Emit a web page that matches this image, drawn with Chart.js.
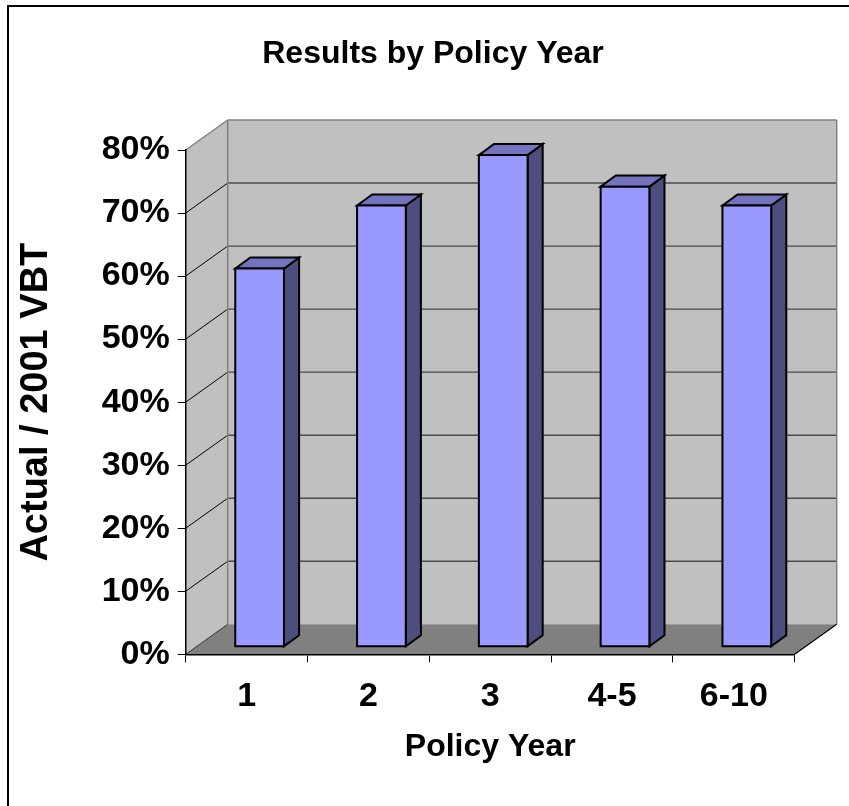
<!DOCTYPE html>
<html>
<head>
<meta charset="utf-8">
<script src="https://cdn.jsdelivr.net/npm/chart.js@4.4.1/dist/chart.umd.min.js"></script>
<style>
  html, body { margin: 0; padding: 0; background: #fff; overflow: hidden; width: 849px; height: 806px; }
  canvas { display: block; }
</style>
</head>
<body>
<canvas id="chart" width="866" height="806"></canvas>
<script>
// Policy year buckets and the actual-to-table ratio for each
const categories = ['1', '2', '3', '4-5', '6-10'];
const actualToVbt = [0.60, 0.70, 0.78, 0.73, 0.70];
const yTickValues = [0, 0.1, 0.2, 0.3, 0.4, 0.5, 0.6, 0.7, 0.8];
const chartTitle = 'Results by Policy Year';
const xTitle = 'Policy Year';
const yTitle = 'Actual / 2001 VBT';

// Oblique projection of the 3D box: how far the back plane is shifted
const DEPTH_X = 42;
const DEPTH_Y = 30;
// Depth position of the bar's front and back faces (fraction of box depth)
const BAR_FRONT = { x: 0.31, y: 0.25 };
const BAR_BACK = { x: 0.67, y: 0.62 };

const FONT = "'Liberation Sans', Arial, Helvetica, sans-serif";
const WALL = '#C0C0C0';
const FLOOR = '#808080';
const BAR_FACE = '#9999FF';
const BAR_TOP = '#7373BF';
const BAR_SIDE = '#4D4D80';

function polygon(ctx, pts, fill, stroke, lw) {
  ctx.beginPath();
  ctx.moveTo(pts[0][0], pts[0][1]);
  for (let i = 1; i < pts.length; i++) ctx.lineTo(pts[i][0], pts[i][1]);
  ctx.closePath();
  if (fill) { ctx.fillStyle = fill; ctx.fill(); }
  if (stroke) { ctx.strokeStyle = stroke; ctx.lineWidth = lw || 1; ctx.stroke(); }
}

function line(ctx, x1, y1, x2, y2, color, lw) {
  ctx.beginPath();
  ctx.moveTo(x1, y1);
  ctx.lineTo(x2, y2);
  ctx.strokeStyle = color;
  ctx.lineWidth = lw;
  ctx.stroke();
}

const box3d = {
  id: 'box3d',
  beforeDraw(chart) {
    const { ctx, chartArea: a, scales: { y } } = chart;
    const L = a.left, R = a.right;
    const T = y.getPixelForValue(y.max);
    const B = y.getPixelForValue(0);
    ctx.save();
    ctx.fillStyle = '#fff';
    ctx.fillRect(0, 0, chart.width, chart.height);
    // outer frame
    ctx.fillStyle = '#000';
    ctx.fillRect(7, 5, chart.width, 2);
    ctx.fillRect(7, 5, 2, chart.height);

    // side wall, back wall, floor
    polygon(ctx, [[L, T], [L + DEPTH_X, T - DEPTH_Y], [L + DEPTH_X, B - DEPTH_Y], [L, B]], WALL);
    polygon(ctx, [[L + DEPTH_X, T - DEPTH_Y], [R + DEPTH_X, T - DEPTH_Y], [R + DEPTH_X, B - DEPTH_Y], [L + DEPTH_X, B - DEPTH_Y]], WALL);
    polygon(ctx, [[L, B], [R, B], [R + DEPTH_X, B - DEPTH_Y], [L + DEPTH_X, B - DEPTH_Y]], FLOOR);

    // gridlines on the walls
    yTickValues.forEach(v => {
      if (v <= 0 || v >= y.max) return;
      const py = y.getPixelForValue(v);
      line(ctx, L + DEPTH_X, py - DEPTH_Y, R + DEPTH_X, py - DEPTH_Y, '#4A4A4A', 1.4);
      line(ctx, L, py, L + DEPTH_X, py - DEPTH_Y, '#000', 1);
    });
    // floor's left edge against the side wall
    line(ctx, L, B, L + DEPTH_X, B - DEPTH_Y, '#333', 1);

    // wall edges
    line(ctx, L, T, L + DEPTH_X, T - DEPTH_Y, '#808080', 1.5);
    line(ctx, L + DEPTH_X, T - DEPTH_Y, R + DEPTH_X, T - DEPTH_Y, '#808080', 1.5);
    line(ctx, R + DEPTH_X, T - DEPTH_Y, R + DEPTH_X, B - DEPTH_Y, '#808080', 1.5);
    line(ctx, L + DEPTH_X, T - DEPTH_Y, L + DEPTH_X, B - DEPTH_Y, '#808080', 1.5);
    line(ctx, R, B, R + DEPTH_X, B - DEPTH_Y, '#000', 1.2);
    ctx.restore();
  },
  afterDatasetsDraw(chart) {
    const { ctx } = chart;
    const meta = chart.getDatasetMeta(0);
    const fx = BAR_FRONT.x * DEPTH_X, fy = BAR_FRONT.y * DEPTH_Y;
    const dx = (BAR_BACK.x - BAR_FRONT.x) * DEPTH_X, dy = (BAR_BACK.y - BAR_FRONT.y) * DEPTH_Y;
    ctx.save();
    ctx.lineJoin = 'miter';
    meta.data.forEach(bar => {
      const { x, y, base, width } = bar.getProps(['x', 'y', 'base', 'width'], true);
      const l = x - width / 2 + fx, r = x + width / 2 + fx;
      const t = y - fy, b = base - fy;
      polygon(ctx, [[r, t], [r + dx, t - dy], [r + dx, b - dy], [r, b]], BAR_SIDE, '#000', 2);
      polygon(ctx, [[l, t], [l + dx, t - dy], [r + dx, t - dy], [r, t]], BAR_TOP, '#000', 2);
      polygon(ctx, [[l, t], [r, t], [r, b], [l, b]], BAR_FACE, '#000', 2);
    });
    ctx.restore();
  }
};

new Chart(document.getElementById('chart'), {
  type: 'bar',
  data: {
    labels: categories,
    datasets: [{
      data: actualToVbt,
      backgroundColor: 'rgba(0,0,0,0)',
      borderWidth: 0,
      barPercentage: 0.4,
      categoryPercentage: 1.0
    }]
  },
  options: {
    responsive: false,
    animation: false,
    events: [],
    layout: { padding: 0 },
    plugins: {
      legend: { display: false },
      tooltip: { enabled: false },
      title: {
        display: true,
        text: chartTitle,
        color: '#000',
        font: { family: FONT, size: 32, weight: 'bold', lineHeight: 1.2 },
        padding: { top: 35.3, bottom: 76.3 }
      }
    },
    scales: {
      x: {
        grid: { display: true, drawOnChartArea: false, drawTicks: true, tickLength: 8, color: '#000', offset: true },
        border: { display: true, color: '#000', width: 1.5 },
        ticks: { color: '#000', padding: 14, font: { family: FONT, size: 34, weight: 'bold' } },
        title: {
          display: true, text: xTitle, color: '#000',
          font: { family: FONT, size: 32, weight: 'bold', lineHeight: 1.2 },
          padding: { top: 0, bottom: 40 }
        },
        afterFit(s) { s.height = 806 - 654.3; }
      },
      y: {
        min: 0,
        max: 0.8,
        afterBuildTicks(s) { s.ticks = yTickValues.map(v => ({ value: v })); },
        grid: { display: true, drawOnChartArea: false, drawTicks: true, tickLength: 8, color: '#000' },
        border: { display: true, color: '#000', width: 1.5 },
        ticks: {
          color: '#000', padding: 8,
          font: { family: FONT, size: 34, weight: 'bold' },
          callback: v => Math.round(v * 100) + '%'
        },
        title: {
          display: true, text: yTitle, color: '#000',
          font: { family: FONT, size: 38, weight: 'bold', lineHeight: 1.2 },
          padding: { top: 14.2, bottom: 0 }
        },
        afterFit(s) { s.width = 185.7; }
      },
      depth: {
        type: 'linear',
        position: 'right',
        display: true,
        grid: { display: false, drawTicks: false },
        border: { display: false },
        ticks: { display: false },
        afterFit(s) { s.width = 866 - 794.7; }
      }
    }
  },
  plugins: [box3d]
});
</script>
</body>
</html>
